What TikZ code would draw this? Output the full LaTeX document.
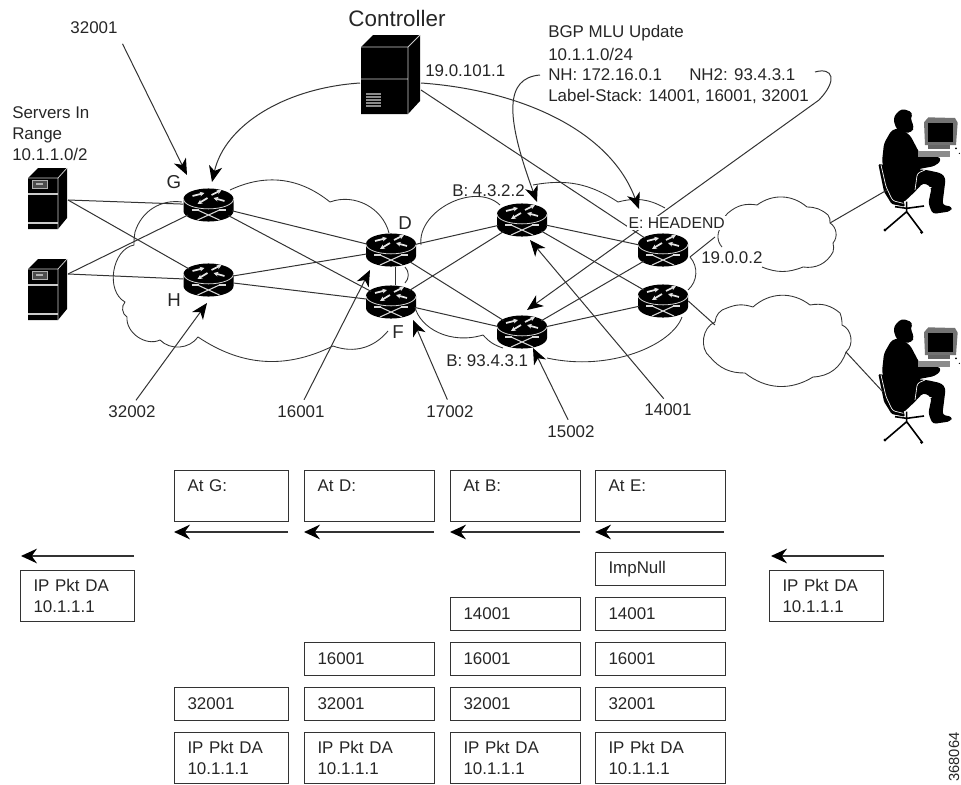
\documentclass[tikz,border=0pt]{standalone}
\usepackage{fontspec}
\setmainfont{Liberation Sans}
\usetikzlibrary{arrows.meta,shapes.geometric,calc}
\definecolor{ink}{gray}{0.2}
\definecolor{txt}{gray}{0.15}
\tikzset{
  conn/.style={draw=ink,line width=0.75pt},
  arw/.style={conn,-{Stealth[length=12pt,width=10pt,inset=3.5pt,black]}},
  cloudline/.style={draw=ink,line width=0.65pt,line join=round},
  lab/.style={font=\fontsize{12.7}{16}\selectfont,text=txt,inner sep=0pt,align=left},
  rnode/.style={ellipse,minimum width=37.5pt,minimum height=25.5pt,inner sep=0pt},
  pk/.style={draw=ink,line width=0.8pt,rectangle,font=\fontsize{12.7}{15.75}\selectfont,text=txt,align=left,inner xsep=9.75pt,inner ysep=0pt,anchor=north west},
  pkG/.style={pk,text width=66pt},
  pkD/.style={pk,text width=78pt},
  h1/.style={minimum height=24.75pt},
  h2/.style={minimum height=38pt},
  pkt/.style={conn,line width=1pt,-{Stealth[length=12pt,width=11pt,inset=4pt,black]}},
}
\newcommand{\rtr}[3]{%
  \begin{scope}[shift={(#2,#3)}]
    \fill[black] (-25,-6) arc[start angle=180,end angle=0,x radius=18.75pt,y radius=7.9pt] -- (25,6) arc[start angle=0,end angle=-180,x radius=18.75pt,y radius=7.9pt] -- cycle;
    \draw[white!85!black,line width=0.6pt] (-25,-6) arc[start angle=180,end angle=360,x radius=18.75pt,y radius=7.4pt];
    \draw[white!90!black,line width=1.3pt,-{Stealth[length=3.5pt,width=3.5pt]}] (-16,-9) -- (-4,-12);
    \draw[white!90!black,line width=1.3pt,-{Stealth[length=3.5pt,width=3.5pt]}] (16,-4) -- (5,-7);
    \draw[white!90!black,line width=1.3pt,-{Stealth[length=3.5pt,width=3.5pt]}] (3,-10) -- (13,-15);
    \draw[white!90!black,line width=1.3pt,-{Stealth[length=3.5pt,width=3.5pt]}] (-1,-7) -- (-11,-1);
    \draw[white!85!black,line width=0.8pt] (-11,5) -- (11,15) (11,5) -- (-11,15);
    \draw[white!85!black,line width=0.8pt] (-17,5) -- (-10,5) (10,5) -- (17,5);
  \end{scope}
  \node[rnode] (#1) at (#2,#3) {};
}
\newcommand{\srv}[2]{%
  \begin{scope}[shift={(#1,#2)}]
    \fill[black] (0,10) -- (10,0) -- (39,0) -- (39,50) -- (30,61) -- (0,61) -- cycle;
    \draw[white!80!black,line width=0.6pt] (0,10) -- (30,10) -- (39,0) (30,10) -- (30,61);
    \draw[white!80!black,line width=0.8pt] (0,26) -- (30,26) (0,55) -- (30,55);
    \draw[white!70!black,line width=0.7pt,fill=black!70] (4,12) rectangle (19,20);
    \fill[white!70!black] (8,15) rectangle (15,17);
  \end{scope}
}
\newcommand{\person}[1]{%
  \begin{scope}[shift={(860,#1)},x=0.25pt,y=-0.25pt]
    \fill[black,rounded corners=1pt] (55,222) -- (75,225) -- (100,320) -- (130,330) -- (135,350) -- (95,342) -- (72,305) -- cycle;
    \fill[black,rounded corners=2.5pt] (118,115) -- (95,120) -- (72,160) -- (66,215) -- (85,290) -- (100,328) -- (130,338) -- (165,305) -- (190,278) -- (215,292) -- (205,340) -- (218,372) -- (272,364) -- (277,350) -- (247,345) -- (257,265) -- (245,250) -- (200,240) -- (172,238) -- (225,228) -- (245,210) -- (232,198) -- (180,192) -- (150,135) -- cycle;
    \fill[black,rounded corners=3pt] (100,80) -- (125,55) -- (160,68) -- (150,85) -- (163,110) -- (155,128) -- (135,128) -- (118,125) -- (105,110) -- cycle;
    \draw[white,line width=0.5pt,rounded corners=2pt] (63,225) -- (78,290) -- (98,332) -- (130,340);
    \draw[white,line width=0.5pt,rounded corners=2pt] (165,300) -- (172,250) -- (195,240);
    \draw[white,line width=0.5pt] (170,300) -- (215,292);
    \draw[black,line width=1.2pt] (140,335) -- (140,370) (140,365) -- (78,418) (140,365) -- (185,425) (140,355) -- (105,350) (140,355) -- (192,348);
    \fill[black] (75,420) circle (5) (185,427) circle (5);
    \fill[black!55] (192,97) -- (205,82) -- (285,84) -- (293,98) -- (288,165) -- (195,165) -- cycle;
    \fill[black] (203,100) rectangle (280,155);
    \fill[black!45] (175,183) rectangle (270,200);
    \fill[black!60] (205,165) rectangle (270,178);
    \fill[black] (288,175) circle (3) (298,190) circle (2);
  \end{scope}
}
\begin{document}
\begin{tikzpicture}[x=0.75pt,y=-0.75pt]
\useasboundingbox (0,0) rectangle (961,785);

% routers
\rtr{G}{208.5}{205}
\rtr{H}{208.5}{280}
\rtr{D}{391}{250}
\rtr{F}{391}{302}
\rtr{B1}{522}{220}
\rtr{B2}{522}{332}
\rtr{E}{663}{250}
\rtr{E2}{663}{301}

% servers and controller
\srv{28}{168}
\srv{28}{259}
\coordinate (S1) at (68,200);
\coordinate (S2) at (68,274);
\fill[black] (361,47) -- (373,35) -- (420,35) -- (420,101) -- (408,114) -- (361,114) -- cycle;
\draw[white!80!black,line width=0.7pt] (361,47) -- (408,47) -- (420,35) (408,47) -- (408,114) (361,79) -- (408,79);
\foreach \yy in {94,97,100,103,106} \draw[black!45,line width=1pt] (366,\yy) -- (381,\yy);
\coordinate (Cw) at (360,83);
\coordinate (Ce) at (421,83);
\coordinate (Cl) at (421,90);

\person{90}
\person{300}
\coordinate (P1) at (887,190);
\coordinate (P2) at (883,392);

% clouds
\draw[cloudline] (230,190) to[bend left=32] (330,202) to[bend left=48] (389,233);
\draw[cloudline] (388,331) to[bend left=35] (333,346) to[bend left=30] (198,337) to[bend left=50] (160,340) to[bend left=60] (127,317) to[bend left=50] (125,302) to[bend left=70] (134,245) to[bend left=5] (135,232) to[bend left=40] (182,202);
\draw[cloudline] (421,245) to[bend left=70] (500,205);
\draw[cloudline] (533,185) to[bend left=22] (618,202) to[bend left=22] (665,208);
\draw[cloudline] (690,257) to[bend left=45] (688,290);
\draw[cloudline] (682,317) .. controls (672,345) and (610,372) .. (547,358);
\draw[cloudline] (503,348) to[bend left=15] (483,335);
\draw[cloudline] (483,335) .. controls (450,345) and (420,328) .. (415,307);
\draw[cloudline] (405,267) to[bend left=45] (405,283);
\draw[cloudline] (722,247) to[bend left=45] (723,225) to[bend left=25] (728,213) to[bend left=25] (757,205) to[bend left=38] (807,207) to[bend left=20] (828,215) to[bend left=20] (830,223) to[bend left=50] (833,243) to[bend left=15] (833,252) to[bend left=35] (803,267) to[bend left=22] (762,267);
\draw[cloudline] (715,322) to[bend left=35] (727,308) to[bend left=20] (753,307) to[bend left=40] (810,305) to[bend left=25] (840,313) to[bend left=10] (842,325) to[bend left=60] (846,352) to[bend left=35] (813,377) to[bend left=35] (745,373) to[bend left=25] (710,357) to[bend left=60] cycle;
\coordinate (C1a) at (715,237);
\coordinate (C1b) at (830,223);
\coordinate (C2a) at (715,325);
\coordinate (C2b) at (846,352);
\coordinate (E1o) at (690,257);

% network links
\foreach \a/\b in {S1/G,S1/H,S2/G,S2/H,G/D,G/F,H/D,H/F,D/B1,D/B2,F/B1,F/B2,B1/E,B1/E2,B2/E,B2/E2,E1o/C1a,E2.east/C2a,C1b/P1,C2b/P2}
  \draw[conn] (\a) -- (\b);
\draw[conn] ([xshift=3pt]D.south) -- ([xshift=3pt]F.north);

% labels
\node[font=\fontsize{16.8}{20}\selectfont,text=txt,inner sep=0pt] (lC) at (397,18) {Controller};
\node[lab,anchor=center] (l32001) at (94,28) {32001};
\node[lab,anchor=center] (l32002) at (132,412) {32002};
\node[lab,anchor=center] (l16001) at (301,412) {16001};
\node[lab,anchor=center] (l17002) at (450,412) {17002};
\node[lab,anchor=center] (l15002) at (571,432) {15002};
\node[lab,anchor=center] (l14001) at (668,410) {14001};
\node[lab,anchor=north west] (lSrv) at (12,106) {Servers In\\Range\\10.1.1.0/2};
\node[lab,anchor=center,font=\fontsize{14}{16}\selectfont] (lG) at (174,182) {G};
\node[lab,anchor=center,font=\fontsize{14}{16}\selectfont] (lH) at (174,300) {H};
\node[lab,anchor=center,font=\fontsize{14}{16}\selectfont] (lD) at (405,223) {D};
\node[lab,anchor=center,font=\fontsize{14}{16}\selectfont] (lF) at (398,332) {F};
\node[lab,anchor=west] (lB1) at (452,191) {B: 4.3.2.2};
\node[lab,anchor=west] (lB2) at (446,361) {B: 93.4.3.1};
\node[lab,anchor=west] (l19b) at (701,258) {19.0.0.2};
\node[lab,anchor=west] (l19a) at (425,71) {19.0.101.1};
\node[lab,anchor=west] (lbgp) at (548,33) {BGP MLU Update};
\node[lab,anchor=west] (lnet) at (548,54) {10.1.1.0/24};
\node[lab,anchor=west] (lNH) at (548,75) {NH: 172.16.0.1};
\node[lab,anchor=west] (lNH2) at (689,75) {NH2: 93.4.3.1};
\node[lab,anchor=west] (lstk) at (548,96) {Label-Stack: 14001, 16001, 32001};

% control arrows
\coordinate (tNH) at (537,202);
\coordinate (tE) at (639,209);
\coordinate (tG) at (212,182);
\coordinate (tB2) at (527,310);
\coordinate (n0) at (815,72);
\coordinate (n2) at (819,100);
\draw[arw] (lNH.west) ++(-6pt,0) .. controls (505,78) and (505,115) .. (tNH);
\draw[arw] (Cw) .. controls (285,88) and (225,125) .. (tG);
\draw[arw] (Ce) .. controls (520,90) and (610,130) .. (tE);
\draw[conn] (Cl) -- (E);
\draw[arw] (n0) .. controls (833,67) and (838,80) .. (n2) -- (tB2);
\node[font=\fontsize{11.8}{14}\selectfont,text=txt,fill=white,inner sep=1pt,anchor=west] (lE) at (627,223) {E: HEADEND};

% label pointers
\coordinate (a1) at (187,175);
\coordinate (a2) at (207,303);
\coordinate (a3) at (370,270);
\coordinate (a4) at (413,320);
\coordinate (a5) at (533,348);
\coordinate (a6) at (530,240);
\draw[arw,shorten <=8pt] (l32001.south east) -- (a1);
\draw[arw,shorten <=5pt] (l32002.north) -- (a2);
\draw[arw,shorten <=5pt] (l16001.north) -- (a3);
\draw[arw,shorten <=5pt] (l17002.north) -- (a4);
\draw[arw,shorten <=5pt] (l15002.north) -- (a5);
\draw[arw,shorten <=5pt] (l14001.north) -- (a6);

% packet stacks
\node[pkG,h2] (bG) at (174,470) {At G:\\\mbox{}};
\node[pkD,h2] (bD) at (304,470) {At D:\\\mbox{}};
\node[pkD,h2] (bB) at (450,470) {At B:\\\mbox{}};
\node[pkD,h2] (bE) at (595,470) {At E:\\\mbox{}};
\node[pkD,h1] (e0) at (595,552) {ImpNull};
\node[pkD,h1] (b1) at (450,597) {14001};
\node[pkD,h1] (e1) at (595,597) {14001};
\node[pkD,h1] (d2) at (304,642) {16001};
\node[pkD,h1] (b2) at (450,642) {16001};
\node[pkD,h1] (e2) at (595,642) {16001};
\node[pkG,h1] (g3) at (174,687) {32001};
\node[pkD,h1] (d3) at (304,687) {32001};
\node[pkD,h1] (b3) at (450,687) {32001};
\node[pkD,h1] (e3) at (595,687) {32001};
\node[pkG,h2] (g4) at (174,732) {IP Pkt DA\\10.1.1.1};
\node[pkD,h2] (d4) at (304,732) {IP Pkt DA\\10.1.1.1};
\node[pkD,h2] (b4) at (450,732) {IP Pkt DA\\10.1.1.1};
\node[pkD,h2] (e4) at (595,732) {IP Pkt DA\\10.1.1.1};
\node[pkG,h2] (pL) at (20,570) {IP Pkt DA\\10.1.1.1};
\node[pkG,h2] (pR) at (769,570) {IP Pkt DA\\10.1.1.1};

% flow arrows
\foreach \n/\xa/\xb/\yy in {aG/288/174/532,aD/434/304/532,aB/580/450/532,aE/724/595/532,aL/134/21/556,aR/884/771/556}{
  \coordinate (\n s) at (\xa,\yy);
  \coordinate (\n t) at (\xb,\yy);
  \draw[pkt] (\n s) -- (\n t);
}

\node[font=\fontsize{11}{12}\selectfont,text=txt,rotate=90,inner sep=0pt] (lid) at (954,757) {368064};
\end{tikzpicture}
\end{document}
